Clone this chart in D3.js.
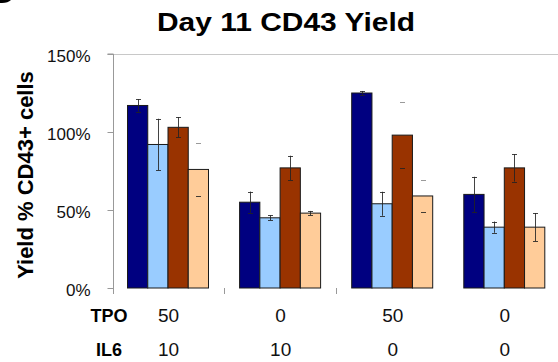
<!DOCTYPE html>
<html>
<head>
<meta charset="utf-8">
<script src="https://cdn.jsdelivr.net/npm/d3@7"></script>
<style>
  html, body { margin: 0; padding: 0; background: #fff; }
  svg { display: block; font-family: "Liberation Sans", Arial, sans-serif; }
</style>
</head>
<body>
<svg id="chart" width="558" height="362"></svg>
<script>
// ---- data ----
const title = "Day 11 CD43 Yield";
const yLabel = "Yield % CD43+ cells";
const groups = ["g1", "g2", "g3", "g4"];
const seriesNames = ["S1", "S2", "S3", "S4"];
const s1Values = [1.17, 0.55, 1.25, 0.60];
const s2Values = [0.92, 0.45, 0.54, 0.39];
const s3Values = [1.03, 0.77, 0.98, 0.77];
const s4Values = [0.76, 0.48, 0.59, 0.39];
const s1Err = [0.04, 0.068, 0.013, 0.113];
const s2Err = [0.165, 0.015, 0.077, 0.036];
const s3Err = [0.065, 0.078, 0.21, 0.088];
const s4Err = [0.17, 0.014, 0.102, 0.09];
const yTicks = [0, 0.5, 1.0, 1.5];
const rowNames = ["TPO", "IL6"];
const tpoLabels = ["50", "0", "50", "0"];
const il6Labels = ["10", "10", "0", "0"];

// ---- style ----
const colors = ["#000080", "#99CCFF", "#993300", "#FFCC99"];
// error bars drawn with caps only (stem not visible in reference)
const capsOnly = [[0, 3], [2, 2], [2, 3]];

const values = [s1Values, s2Values, s3Values, s4Values];
const errs = [s1Err, s2Err, s3Err, s4Err];

const svg = d3.select("#chart");

const x0 = d3.scaleBand().domain(groups).range([112, 560.4]).padding(0);
const x1 = d3.scaleBand().domain(seriesNames).range([15.5, 96.5]).padding(0);
const y = d3.scaleLinear().domain([0, 1.5]).range([288, 54]);

// top border line
svg.append("line")
  .attr("x1", 113).attr("x2", 558)
  .attr("y1", y(1.5) + 0.5).attr("y2", y(1.5) + 0.5)
  .attr("stroke", "#c8c8c8").attr("stroke-width", 1);

// y axis
const yAxis = d3.axisLeft(y).tickValues(yTicks).tickFormat(d3.format(".0%")).tickSize(6).tickPadding(17);
const yg = svg.append("g").attr("transform", "translate(113.5,0)").call(yAxis);
yg.select(".domain").attr("stroke", "#999").attr("d", `M-6,${y(1.5)}H0V${y(0) + 6}`);
yg.selectAll(".tick line").attr("stroke", "#999");
yg.selectAll(".tick text")
  .attr("fill", "#111")
  .attr("font-size", 17)
  .attr("dy", null)
  .attr("dominant-baseline", "alphabetic")
  .attr("y", 7);

// category separator ticks
svg.append("g").selectAll("line")
  .data(groups.slice(1, 3))
  .join("line")
  .attr("x1", d => Math.round(x0(d)) + 0.5)
  .attr("x2", d => Math.round(x0(d)) + 0.5)
  .attr("y1", y(0)).attr("y2", y(0) + 6)
  .attr("stroke", "#999");

// bars
const barData = [];
groups.forEach((g, gi) => {
  seriesNames.forEach((s, si) => {
    barData.push({ g, s, gi, si, v: values[si][gi], e: errs[si][gi] });
  });
});

svg.append("g").selectAll("rect")
  .data(barData)
  .join("rect")
  .attr("x", d => x0(d.g) + x1(d.s))
  .attr("y", d => y(d.v))
  .attr("width", x1.bandwidth())
  .attr("height", d => y(0) - y(d.v))
  .attr("fill", d => colors[d.si])
  .attr("stroke", "#1a1a1a")
  .attr("stroke-width", 1);

// error bars
const eg = svg.append("g").attr("stroke", "#222").attr("stroke-width", 1).attr("stroke-opacity", 0.85);
barData.forEach(d => {
  const cx = Math.round(x0(d.g) + x1(d.s) + x1.bandwidth() / 2) + 0.5;
  const top = y(d.v + d.e), bot = y(d.v - d.e);
  const noStem = capsOnly.some(([gi, si]) => gi === d.gi && si === d.si);
  if (!noStem) {
    eg.append("line").attr("x1", cx).attr("x2", cx).attr("y1", top).attr("y2", bot);
  }
  [top, bot].forEach(yy => {
    eg.append("line")
      .attr("x1", cx - 2.5).attr("x2", cx + 2.5)
      .attr("y1", Math.round(yy) + 0.5).attr("y2", Math.round(yy) + 0.5)
      .attr("stroke", noStem && yy === top ? "#888" : null);
  });
});

// category label rows
const rows = [tpoLabels, il6Labels];
const rowY = [322, 356];
rows.forEach((labels, ri) => {
  svg.append("text")
    .attr("x", 109).attr("y", rowY[ri])
    .attr("text-anchor", "middle")
    .attr("font-weight", "bold").attr("font-size", 18)
    .attr("fill", "#000")
    .text(rowNames[ri]);
  svg.append("g").selectAll("text")
    .data(groups)
    .join("text")
    .attr("x", (d) => x0(d) + x0.bandwidth() / 2 + 0.5)
    .attr("y", rowY[ri])
    .attr("text-anchor", "middle")
    .attr("font-size", 19)
    .attr("fill", "#111")
    .text((d, i) => labels[i]);
});

// title
svg.append("text")
  .attr("x", 286).attr("y", 31)
  .attr("text-anchor", "middle")
  .attr("font-weight", "bold").attr("font-size", 25.5)
  .attr("textLength", 258).attr("lengthAdjust", "spacingAndGlyphs")
  .attr("fill", "#000")
  .text(title);

// y label
svg.append("text")
  .attr("transform", "translate(33,175) rotate(-90)")
  .attr("text-anchor", "middle")
  .attr("font-weight", "bold").attr("font-size", 22)
  .attr("fill", "#000")
  .text(yLabel);

// clipped fragment of a panel mark at the top-left corner
svg.append("path")
  .attr("d", "M0,0 H11 Q8,3 2,3 L0,3 Z")
  .attr("fill", "#000");
</script>
</body>
</html>
